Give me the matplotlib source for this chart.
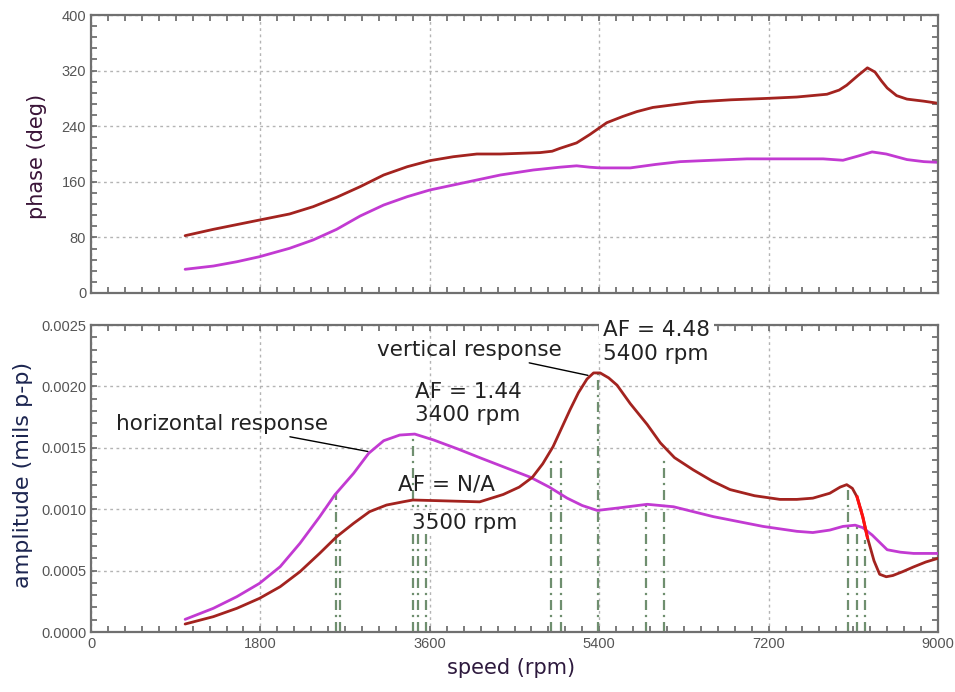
import matplotlib
matplotlib.use("Agg")
import matplotlib.pyplot as plt
from matplotlib.ticker import MultipleLocator, FixedLocator
from matplotlib import font_manager

# ---------------- data ----------------
phase_red_rpm = [1000, 1300, 1790, 2110, 2360, 2610, 2860, 3110, 3360, 3600, 3850, 4100,
                 4350, 4770, 4900, 4980, 5160, 5300, 5480, 5650, 5800, 5970, 6200, 6440,
                 6800, 7180, 7500, 7820, 7950, 8030, 8150, 8250, 8330, 8400, 8460, 8560,
                 8670, 8850, 9000]
phase_red = [82.5, 91.6, 105, 113.7, 124.2, 137.7, 153, 169.8, 181.7, 190.4, 196.1, 200,
             200, 202, 204, 208, 216, 228, 245, 254, 261, 267, 271, 275,
             278, 280, 282, 286, 292, 299, 313, 324, 318, 305, 295, 284,
             279, 276, 273]

phase_mag_rpm = [1000, 1300, 1550, 1790, 2110, 2360, 2610, 2860, 3110, 3360, 3600, 3850,
                 4100, 4350, 4700, 4980, 5160, 5300, 5410, 5730, 6000, 6260, 6600, 6970,
                 7780, 7990, 8150, 8300, 8450, 8670, 8850, 9000]
phase_mag = [34.1, 38.8, 45, 52.2, 64.3, 76.3, 91.6, 110.8, 126.6, 138.6, 148.2, 155.4,
             162.6, 169.8, 177, 181, 183, 181, 180, 180, 185, 189, 191, 193,
             193, 191, 197, 203, 200, 192, 189, 188]

amp_mag_rpm = [1000, 1300, 1550, 1790, 2010, 2220, 2430, 2590, 2790, 2950, 3110, 3280,
               3440, 3640, 3900, 4130, 4400, 4670, 4870, 5060, 5220, 5380, 5600, 5910,
               6190, 6610, 7140, 7500, 7670, 7850, 7990, 8120, 8200, 8300, 8460, 8600,
               8740, 9000]
amp_mag = [0.000103, 0.000193, 0.000288, 0.000396, 0.000532, 0.000722, 0.000939, 0.001116,
           0.001292, 0.001455, 0.001558, 0.001604, 0.001612, 0.001564, 0.00149, 0.00142,
           0.00134, 0.00126, 0.00118, 0.00109, 0.00103, 0.00099, 0.00101, 0.00104,
           0.00102, 0.00094, 0.00086, 0.00082, 0.00081, 0.00083, 0.00086, 0.00087,
           0.00085, 0.00079, 0.00067, 0.00065, 0.00064, 0.00064]

amp_red_rpm = [1000, 1300, 1550, 1790, 2010, 2220, 2430, 2610, 2790, 2960, 3140, 3320,
               3420, 3710, 4130, 4380, 4550, 4690, 4800, 4910, 5000, 5090, 5180, 5270,
               5340, 5410, 5500, 5590, 5730, 5910, 6050, 6200, 6400, 6600, 6790, 7050,
               7320, 7500, 7670, 7850, 7960, 8030, 8090, 8140, 8200, 8250, 8320, 8380,
               8450, 8520, 8620, 8740, 8870, 9000]
amp_red = [0.000065, 0.000125, 0.000193, 0.000274, 0.000369, 0.000491, 0.000641, 0.000776,
           0.000885, 0.00098, 0.001034, 0.001061, 0.001075, 0.001069, 0.00106, 0.00112,
           0.00118, 0.00126, 0.00137, 0.00151, 0.00166, 0.00181, 0.00195, 0.00206,
           0.00211, 0.00211, 0.00207, 0.00201, 0.00186, 0.00169, 0.00154, 0.00142,
           0.00132, 0.00123, 0.00116, 0.00111, 0.00108, 0.00108, 0.00109, 0.00113,
           0.00118, 0.00120, 0.00117, 0.00110, 0.00094, 0.00077, 0.00058, 0.00047,
           0.00045, 0.00046, 0.00049, 0.00053, 0.00057, 0.00060]

vline_rpm = [2600, 2650, 3420, 3470, 3560, 4890, 4990, 5390, 5900, 6090, 8040, 8140, 8220]
vline_top = [0.00113, 0.00075, 0.00160, 0.00107, 0.00107, 0.00140, 0.00140, 0.00210,
             0.00104, 0.00140, 0.00119, 0.00087, 0.00075]

x_ticks = [0, 1800, 3600, 5400, 7200, 9000]
phase_ticks = [0, 80, 160, 240, 320, 400]
amp_ticks = [0.0, 0.0005, 0.0010, 0.0015, 0.0020, 0.0025]

# ---------------- style ----------------
RED = "#a3231f"
MAG = "#c23ad2"
GREEN = "#6f8f6f"
SPINE = "#707070"
GRID = "#b4b4b4"
TICKC = "#555555"
TXT = "#222222"

avail = {f.name for f in font_manager.fontManager.ttflist}
tick_family = "Liberation Sans Narrow" if "Liberation Sans Narrow" in avail else "Liberation Sans"

fig = plt.figure(figsize=(9.55, 6.92), dpi=100)
ax1 = fig.add_axes([0.0953, 0.5766, 0.8869, 0.4017])
ax2 = fig.add_axes([0.0953, 0.0867, 0.8869, 0.4436])


def style(ax, ymin_loc, show_xlabels):
    for s in ax.spines.values():
        s.set_color(SPINE)
        s.set_linewidth(1.6)
    ax.set_xlim(0, 9000)
    ax.xaxis.set_major_locator(FixedLocator(x_ticks))
    ax.xaxis.set_minor_locator(MultipleLocator(180))
    ax.yaxis.set_minor_locator(MultipleLocator(ymin_loc))
    ax.tick_params(which="both", direction="in", top=True, right=True,
                   color="#666666", length=4, width=1.2, labelsize=10.5, labelcolor=TICKC)
    ax.grid(True, which="major", linestyle=(0, (2, 2.5)), color=GRID, linewidth=1)
    if not show_xlabels:
        ax.tick_params(labelbottom=False)


# ---- phase plot ----
ax1.plot(phase_red_rpm, phase_red, color=RED, lw=2.0, solid_capstyle="round",
         solid_joinstyle="round")
ax1.plot(phase_mag_rpm, phase_mag, color=MAG, lw=2.0, solid_capstyle="round",
         solid_joinstyle="round")
ax1.set_ylim(0, 400)
ax1.yaxis.set_major_locator(FixedLocator(phase_ticks))
style(ax1, 16, False)
ax1.set_yticklabels([str(t) for t in phase_ticks], fontfamily=tick_family)
ax1.set_ylabel("phase (deg)", fontsize=15, color="#3a1438")
ax1.yaxis.set_label_coords(-0.052, 0.493)

# ---- amplitude plot ----
for r, t in zip(vline_rpm, vline_top):
    ax2.plot([r, r], [0, t], color=GREEN, lw=1.6, linestyle=(0, (4.5, 2.2, 1, 2.2)),
             zorder=2)
ax2.plot(amp_mag_rpm, amp_mag, color=MAG, lw=2.0, solid_capstyle="round",
         solid_joinstyle="round", zorder=4)
ax2.plot(amp_red_rpm, amp_red, color=RED, lw=2.0, solid_capstyle="round",
         solid_joinstyle="round", zorder=4)
# short bright-red stretch of the vertical trace near 8200 rpm
seg = [(r, a) for r, a in zip(amp_red_rpm, amp_red) if 8140 <= r <= 8250]
ax2.plot([s[0] for s in seg], [s[1] for s in seg], color="#ff1010", lw=2.2, zorder=4)
ax2.set_ylim(0, 0.0025)
ax2.yaxis.set_major_locator(FixedLocator(amp_ticks))
style(ax2, 0.0001, True)
ax2.set_yticklabels(["%.4f" % t for t in amp_ticks], fontfamily=tick_family)
ax2.set_xticklabels([str(t) for t in x_ticks], fontfamily=tick_family)
ax2.set_ylabel("amplitude (mils p-p)", fontsize=16, color="#1c2550")
ax2.yaxis.set_label_coords(-0.069, 0.511)
ax2.set_xlabel("speed (rpm)", fontsize=15, color="#2e1a3e")
ax2.xaxis.set_label_coords(0.496, -0.085)

# ---- annotations ----
FS = 15.5
arrow = dict(arrowstyle="-", color="black", lw=1.0, shrinkA=0, shrinkB=0)
ax2.annotate("horizontal response", xy=(2943, 0.00147), xytext=(2520, 0.001694),
             ha="right", va="center", fontsize=FS, color=TXT, arrowprops=arrow)
ax2.annotate("vertical response", xy=(5281, 0.00209), xytext=(5000, 0.002296),
             ha="right", va="center", fontsize=FS, color=TXT, arrowprops=arrow)
ax2.text(3443, 0.001954, "AF = 1.44", ha="left", va="center", fontsize=FS, color=TXT)
ax2.text(3443, 0.001767, "3400 rpm", ha="left", va="center", fontsize=FS, color=TXT)
ax2.text(3262, 0.001205, "AF = N/A", ha="left", va="center", fontsize=FS, color=TXT)
ax2.text(3411, 0.000888, "3500 rpm", ha="left", va="center", fontsize=FS, color=TXT,
         zorder=3, bbox=dict(facecolor="white", edgecolor="none", pad=1))
ax2.text(5440, 0.002459, "AF = 4.48", ha="left", va="center", fontsize=FS, color=TXT,
         clip_on=False, zorder=10, bbox=dict(facecolor="white", edgecolor="none", pad=3))
ax2.text(5440, 0.002264, "5400 rpm", ha="left", va="center", fontsize=FS, color=TXT,
         zorder=10)

fig.savefig("out.png", dpi=100)
